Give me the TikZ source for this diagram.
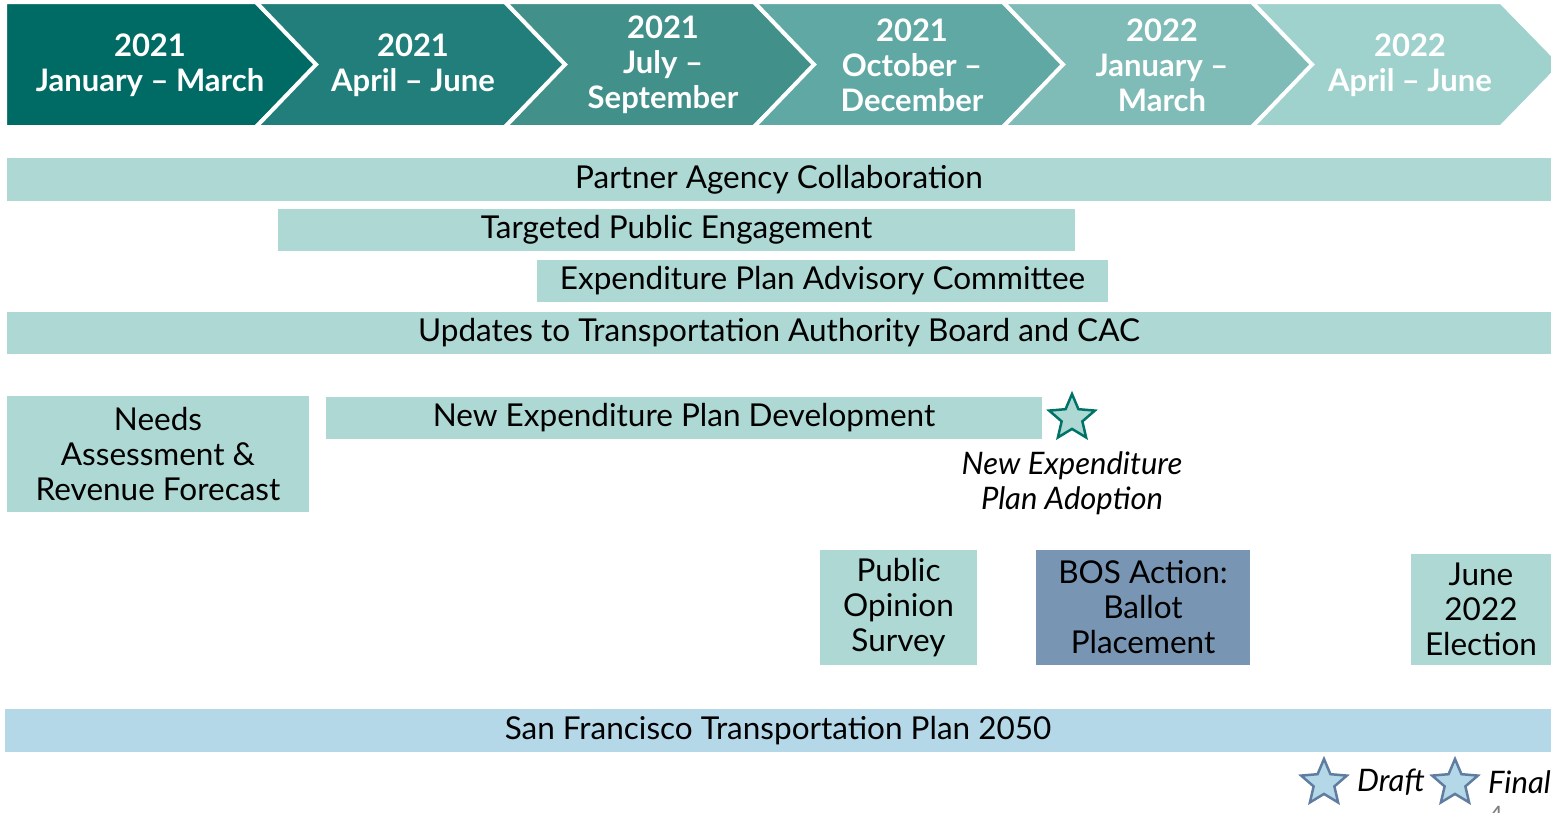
\documentclass[tikz,border=0pt]{standalone}
\usepackage{fontspec}
\setmainfont{Lato}
\usetikzlibrary{shapes.geometric}
\definecolor{stageA}{RGB}{0,107,100}
\definecolor{stageB}{RGB}{33,126,122}
\definecolor{stageC}{RGB}{66,144,138}
\definecolor{stageD}{RGB}{96,168,163}
\definecolor{stageE}{RGB}{127,187,183}
\definecolor{stageF}{RGB}{160,210,205}
\definecolor{barteal}{RGB}{173,216,212}
\definecolor{barblue}{RGB}{181,216,233}
\definecolor{bosblue}{RGB}{120,150,180}
\definecolor{starteal}{RGB}{0,115,105}
\definecolor{starblue}{RGB}{95,125,160}

\tikzset{
  bar/.style={fill=barteal, inner sep=0pt, outer sep=0pt, anchor=north west, align=center, font=\fontsize{31.5}{35}\selectfont},
  stage/.style={text=white, align=center, font=\bfseries\fontsize{31}{35}\selectfont},
  milestone/.style={star, star points=5, star point ratio=2.2, minimum size=48pt, inner sep=0pt, line width=2.5pt},
  note/.style={align=center, font=\itshape\fontsize{31}{35}\selectfont}
}

\begin{document}
\begin{tikzpicture}[x=1pt,y=-1pt]
\useasboundingbox (0,0) rectangle (1551,812);

% quarter chevrons
\foreach \i/\col in {0/stageA,1/stageB,2/stageC,3/stageD,4/stageE,5/stageF}{
  \pgfmathsetmacro{\tx}{256+249*\i}
  \pgfmathsetmacro{\lx}{\i==0 ? 5 : \tx-249}
  \pgfmathsetmacro{\nx}{\i==0 ? 0 : 60}
  \filldraw[fill=\col, draw=white, line width=4pt, line join=miter]
    (\lx,2) -- (\tx,2) -- (\tx+61,64.5) -- (\tx,127) -- (\lx,127) -- (\lx+\nx,64.5) -- cycle;
}
\node[stage] (q1) at (150,65) {2021\\January – March};
\node[stage] (q2) at (413,65) {2021\\April – June};
\node[stage] (q3) at (663,65) {2021\\July –\\September};
\node[stage] (q4) at (912,65) {2021\\October –\\December};
\node[stage] (q5) at (1162,65) {2022\\January –\\March};
\node[stage] (q6) at (1410,65) {2022\\April – June};

% ongoing work
\node[bar, minimum width=1544, minimum height=43] (partner) at (7,158) {Partner Agency Collaboration};
\node[bar, minimum width=797, minimum height=42] (engage) at (278,209) {Targeted Public Engagement};
\node[bar, minimum width=571, minimum height=42] (epac) at (537,260) {Expenditure Plan Advisory Committee};
\node[bar, minimum width=1544, minimum height=42] (updates) at (7,312) {Updates to Transportation Authority Board and CAC};

% plan development
\node[bar, minimum width=302, minimum height=116] (needs) at (7,396) {Needs\\Assessment \&\\Revenue Forecast};
\node[bar, minimum width=716, minimum height=42] (develop) at (326,397) {New Expenditure Plan Development};
\node[milestone, draw=starteal, fill=barteal] (adopt) at (1072,418) {};
\node[note] (adoptnote) at (1072,483) {New Expenditure\\Plan Adoption};

% ballot steps
\node[bar, minimum width=157, minimum height=115] (survey) at (820,550) {Public\\Opinion\\Survey};
\node[bar, fill=bosblue, minimum width=214, minimum height=115] (bos) at (1036,550) {BOS Action:\\Ballot\\Placement};
\node[bar, minimum width=140, minimum height=111] (election) at (1411,554) {June\\2022\\Election};

% long range plan
\node[bar, fill=barblue, minimum width=1546, minimum height=43] (sftp) at (5,709) {San Francisco Transportation Plan 2050};
\node[milestone, draw=starblue, fill=barblue] (draft) at (1324,783) {};
\node[note, anchor=west, inner sep=0pt] (drafttext) at (1357,782) {Draft};
\node[milestone, draw=starblue, fill=barblue] (final) at (1455,783) {};
\node[note, anchor=west, inner sep=0pt] (finaltext) at (1488,782) {Final};
\node[text=gray, font=\fontsize{24}{28}\selectfont] (pagenum) at (1496,815) {4};
\end{tikzpicture}
\end{document}
